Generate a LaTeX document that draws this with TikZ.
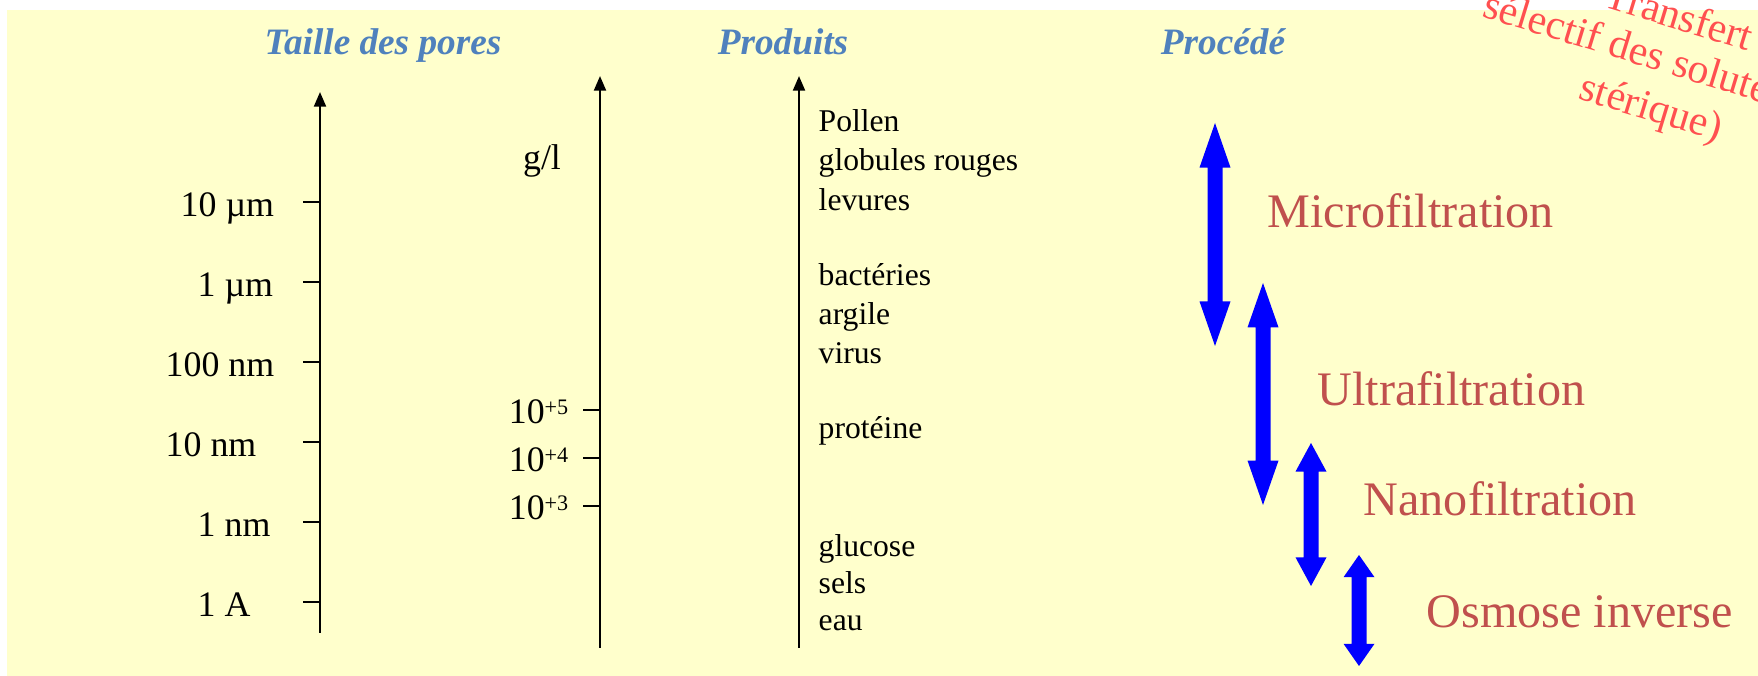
\documentclass[tikz,border=0pt]{standalone}
\usepackage{fontspec}
\setmainfont{Liberation Serif}
\usepackage{tikz}
\usetikzlibrary{arrows.meta}
\definecolor{fond}{HTML}{FFFFCC}
\definecolor{bleutitre}{HTML}{4F81BD}
\definecolor{rougeproc}{HTML}{C0504D}
\definecolor{fleche}{HTML}{0000FF}
\definecolor{rougenote}{HTML}{FF5050}
\tikzset{
  axe/.style={-{Triangle[length=4.2pt, width=3.4pt]}, line width=0.7pt, draw=black},
  graduation/.style={line width=0.7pt, draw=black},
  titre/.style={font=\fontsize{10.6}{12}\selectfont\bfseries\itshape, text=bleutitre, inner sep=0pt, anchor=base},
  echelle/.style={font=\fontsize{10.2}{12}\selectfont, inner sep=0pt, anchor=base west},
  produit/.style={font=\fontsize{9}{11}\selectfont, inner sep=0pt, anchor=base west},
  procede/.style={font=\fontsize{13.7}{16}\selectfont, text=rougeproc, inner sep=0pt, anchor=base west},
  remarque/.style={font=\fontsize{11.9}{14}\selectfont, text=rougenote, inner sep=0pt, anchor=base west, rotate=-17},
}
\newcommand{\puiss}[1]{10\raisebox{2.6pt}{\fontsize{6.3}{7}\selectfont#1}}

\begin{document}
\begin{tikzpicture}
    \useasboundingbox (0,0) rectangle (17.58,6.76);
    \clip (0,0) rectangle (17.58,6.76);
    \fill[fond] (0.07,0) rectangle (17.58,6.66);
    % titres
    \node[titre] (ttaille) at (3.83,6.21) {Taille des pores};
    \node[titre] (tproduits) at (7.83,6.21) {Produits};
    \node[titre] (tprocede) at (12.23,6.21) {Procédé};
    % taille des pores
    \draw[axe] (3.20,0.43) -- (3.20,5.84);
    \foreach \lab/\xl [count=\i] in {10 µm/1.80, 1 µm/1.97, 100 nm/1.65, 10 nm/1.65, 1 nm/1.97, 1 A/1.97}{
      \pgfmathsetmacro{\yt}{4.74-0.8*(\i-1)}
      \draw[graduation] (3.03,\yt) -- (3.20,\yt);
      \node[echelle] (taille\i) at (\xl,\yt-0.15) {\lab};
    }
    % masse molaire
    \draw[axe] (6.00,0.28) -- (6.00,6.00);
    \node[echelle, anchor=center] (gl) at (5.42,5.15) {g/l};
    \foreach \e/\yt [count=\i] in {+5/2.66, +4/2.18, +3/1.70}{
      \draw[graduation] (5.83,\yt) -- (6.00,\yt);
      \node[echelle, anchor=base east] (masse\i) at (5.69,\yt-0.14) {\puiss{\e}};
    }
    % produits
    \draw[axe] (7.99,0.28) -- (7.99,6.00);
    \foreach \yp/\lab [count=\i] in {5.44/Pollen, 5.05/globules rouges, 4.65/levures,
        3.90/bactéries, 3.51/argile, 3.12/virus, 2.37/protéine,
        1.19/glucose, 0.82/sels, 0.45/eau}{
      \node[produit] (prod\i) at (8.18,\yp) {\lab};
    }
    % procedes
    \foreach \x/\h/\b in {12.15/5.53/3.30, 12.63/3.93/1.71, 13.11/2.33/0.90, 13.59/1.21/0.10}{
      \pgfmathsetmacro{\tete}{0.2*(\h-\b)}
      \fill[fleche] (\x,\h) -- (\x+0.155,\h-\tete) -- (\x+0.075,\h-\tete) -- (\x+0.075,\b+\tete)
        -- (\x+0.155,\b+\tete) -- (\x,\b) -- (\x-0.155,\b+\tete) -- (\x-0.075,\b+\tete)
        -- (\x-0.075,\h-\tete) -- (\x-0.155,\h-\tete) -- cycle;
    }
    \node[procede] (micro) at (12.67,4.48) {Microfiltration};
    \node[procede] (ultra) at (13.17,2.70) {Ultrafiltration};
    \node[procede] (nano) at (13.63,1.60) {Nanofiltration};
    \node[procede] (osmose) at (14.26,0.48) {Osmose inverse};
    % note
    \node[remarque] (note1) at (16.02,6.695) {Transfert};
    \node[remarque] (note2) at (14.805,6.596) {sélectif des solutés};
    \node[remarque] (note3) at (15.767,5.777) {stérique)};
  \end{tikzpicture}
\end{document}
